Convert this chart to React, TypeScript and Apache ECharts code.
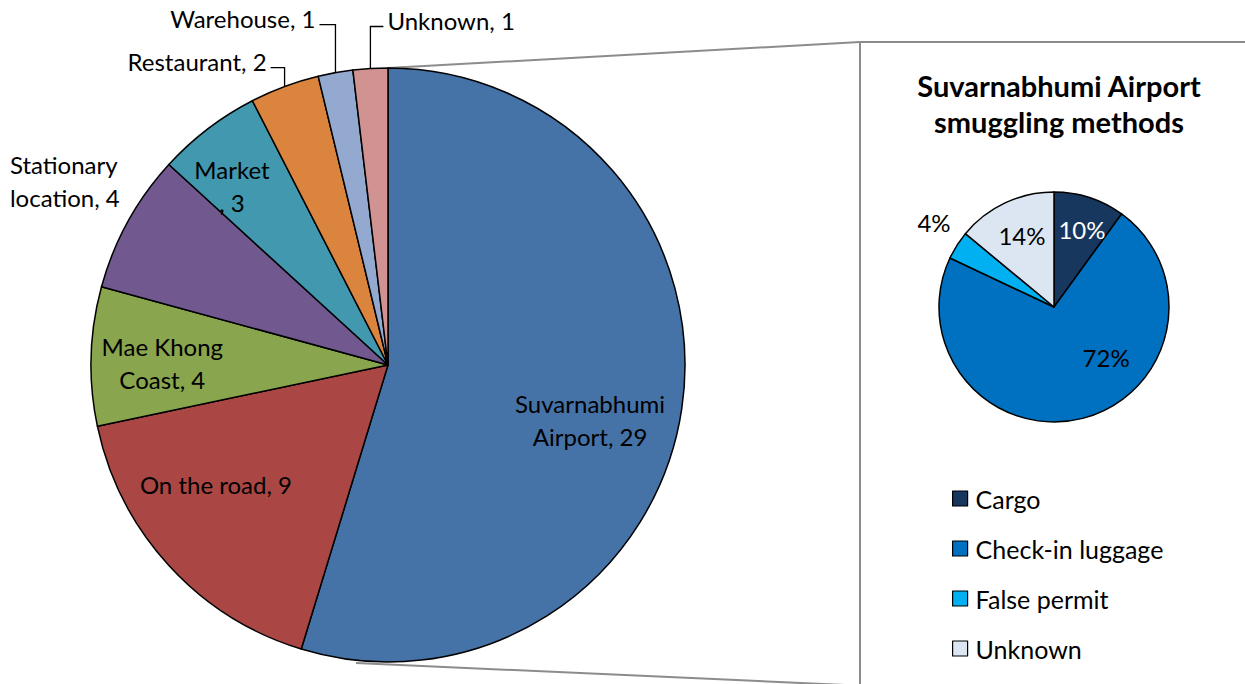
import React, { useEffect, useRef } from "react";
import * as echarts from "echarts";

// ---- data ----
const locationNames = [
  "Suvarnabhumi Airport",
  "On the road",
  "Mae Khong Coast",
  "Stationary location",
  "Market",
  "Restaurant",
  "Warehouse",
  "Unknown",
];
const locationLabelText = [
  "Suvarnabhumi\nAirport",
  "On the road",
  "Mae Khong\nCoast",
  "Stationary\nlocation",
  "Market\n",
  "Restaurant",
  "Warehouse",
  "Unknown",
];
const locationCounts = [29, 9, 4, 4, 3, 2, 1, 1];
const locationColors = ["#4572A7", "#AA4643", "#89A54E", "#71588F", "#4198AF", "#DB843D", "#93A9CF", "#D19392"];

const methodNames = ["Cargo", "Check-in luggage", "False permit", "Unknown"];
const methodPercents = [10, 72, 4, 14];
const methodColors = ["#17375E", "#0070C0", "#00B0F0", "#DCE6F2"];
const methodLabelColors = ["#ffffff", "#000000", "#000000", "#000000"];

const titleText = "Suvarnabhumi Airport\nsmuggling methods";

// ---- layout / style ----
const FONT = "Lato";
const LABEL_SIZE = 24;
const bigCenter = [388, 365];
const bigRadius = 297;
const smallCenter = [1054, 307];
const smallRadius = 115;

type Placement =
  | { mode: "in"; da: number; r: number }
  | { mode: "out"; dx: number; dy: number; align: "left" | "right"; line: boolean };

const bigLabelPlacement: Placement[] = [
  { mode: "in", da: 6.7, r: 0.705 },
  { mode: "in", da: 7.6, r: 0.706 },
  { mode: "in", da: -1.2, r: 0.76 },
  { mode: "out", dx: -118, dy: -41, align: "left", line: false },
  { mode: "in", da: -3.7, r: 0.8 },
  { mode: "out", dx: -18, dy: -25, align: "right", line: true },
  { mode: "out", dx: -20, dy: -54, align: "right", line: true },
  { mode: "out", dx: 17, dy: -48, align: "left", line: true },
];
const smallLabelPlacement: Placement[] = [
  { mode: "in", da: 1.7, r: 0.72 },
  { mode: "in", da: -31.6, r: 0.63 },
  { mode: "in", da: 2.6, r: 1.274 },
  { mode: "in", da: 1.2, r: 0.685 },
];

function polar(c: number[], r: number, deg: number) {
  const a = (deg * Math.PI) / 180;
  return [c[0] + r * Math.sin(a), c[1] - r * Math.cos(a)];
}
function midAngles(values: number[]) {
  const total = values.reduce((s, v) => s + v, 0);
  let acc = 0;
  return values.map((v) => {
    const m = ((acc + v / 2) / total) * 360;
    acc += v;
    return m;
  });
}

function makeLayout(values: number[], center: number[], radius: number, placement: Placement[]) {
  const mids = midAngles(values);
  return (params: any) => {
    const i = params.dataIndex;
    const p = placement[i];
    if (p.mode === "in") {
      const [x, y] = polar(center, radius * p.r, mids[i] + p.da);
      return { x, y, align: "center", verticalAlign: "middle" };
    }
    const edge = polar(center, radius, mids[i]);
    const x = edge[0] + p.dx;
    const y = edge[1] + p.dy;
    const res: any = { x, y, align: p.align, verticalAlign: "middle" };
    if (p.line) {
      const ly = y + 6;
      res.labelLinePoints = [
        [edge[0], edge[1]],
        [edge[0], ly],
        [x + (p.align === "right" ? 4 : -4), ly],
      ];
    }
    return res;
  };
}

export default function App() {
  const ref = useRef<HTMLDivElement>(null);
  useEffect(() => {
    if (!ref.current) return;
    const chart = echarts.init(ref.current, undefined, { renderer: "svg" });
    const grey = "#8c8c8c";
    chart.setOption({
      animation: false,
      backgroundColor: "#ffffff",
      textStyle: { fontFamily: FONT },
      title: {
        text: titleText,
        left: smallCenter[0],
        top: 62,
        textAlign: "center",
        textStyle: { fontFamily: FONT, fontSize: 29, fontWeight: "bold", color: "#000", lineHeight: 36 },
      },
      legend: {
        orient: "vertical",
        left: 952,
        top: 486,
        padding: 0,
        data: methodNames,
        icon: "rect",
        itemWidth: 15,
        itemHeight: 15,
        itemGap: 25,
        selectedMode: false,
        itemStyle: { borderColor: "#000", borderWidth: 1.2 },
        textStyle: { fontFamily: FONT, fontSize: 25, color: "#000", lineHeight: 25, padding: [0, 0, 0, 3] },
      },
      graphic: [
        { type: "line", shape: { x1: bigCenter[0], y1: bigCenter[1] - bigRadius, x2: 860, y2: 42 }, style: { stroke: grey, lineWidth: 2 } },
        { type: "line", shape: { x1: 860, y1: 42, x2: 1245, y2: 42 }, style: { stroke: grey, lineWidth: 2 } },
        { type: "line", shape: { x1: 860, y1: 42, x2: 860, y2: 684 }, style: { stroke: grey, lineWidth: 2 } },
        { type: "line", shape: { x1: 356, y1: 663, x2: 845, y2: 685 }, style: { stroke: grey, lineWidth: 2 } },
      ],
      series: [
        {
          type: "pie",
          name: "methods",
          center: smallCenter,
          radius: [0, smallRadius],
          startAngle: 90,
          clockwise: true,
          avoidLabelOverlap: false,
          itemStyle: { borderColor: "#000", borderWidth: 1.5 },
          label: {
            show: true,
            position: "inside",
            fontFamily: FONT,
            fontSize: LABEL_SIZE,
            formatter: (p: any) => `${p.value}%`,
          },
          labelLine: { show: false },
          labelLayout: makeLayout(methodPercents, smallCenter, smallRadius, smallLabelPlacement),
          emphasis: { disabled: true },
          data: methodNames.map((n, i) => ({
            name: n,
            value: methodPercents[i],
            itemStyle: { color: methodColors[i] },
            label: { color: methodLabelColors[i] },
          })),
        },
        {
          type: "pie",
          name: "locations",
          center: bigCenter,
          radius: [0, bigRadius],
          startAngle: 90,
          clockwise: true,
          avoidLabelOverlap: false,
          itemStyle: { borderColor: "#000", borderWidth: 1.5 },
          label: { show: true, fontFamily: FONT, fontSize: LABEL_SIZE, color: "#000", lineHeight: 33 },
          labelLayout: makeLayout(locationCounts, bigCenter, bigRadius, bigLabelPlacement),
          emphasis: { disabled: true },
          data: locationNames.map((n, i) => {
            const p = bigLabelPlacement[i];
            const out = p.mode === "out";
            return {
              name: n,
              value: locationCounts[i],
              itemStyle: { color: locationColors[i] },
              label: {
                position: out ? "outside" : "inside",
                formatter: `${locationLabelText[i]}, ${locationCounts[i]}`,
                align: out ? (p as any).align : "center",
              },
              labelLine: {
                show: out && (p as any).line,
                length: 5,
                length2: 5,
                lineStyle: { color: "#000", width: 1.3 },
              },
            };
          }),
        },
      ],
    });
    return () => chart.dispose();
  }, []);
  return <div ref={ref} style={{ position: "absolute", left: 0, top: 0, width: 1245, height: 684 }} />;
}
